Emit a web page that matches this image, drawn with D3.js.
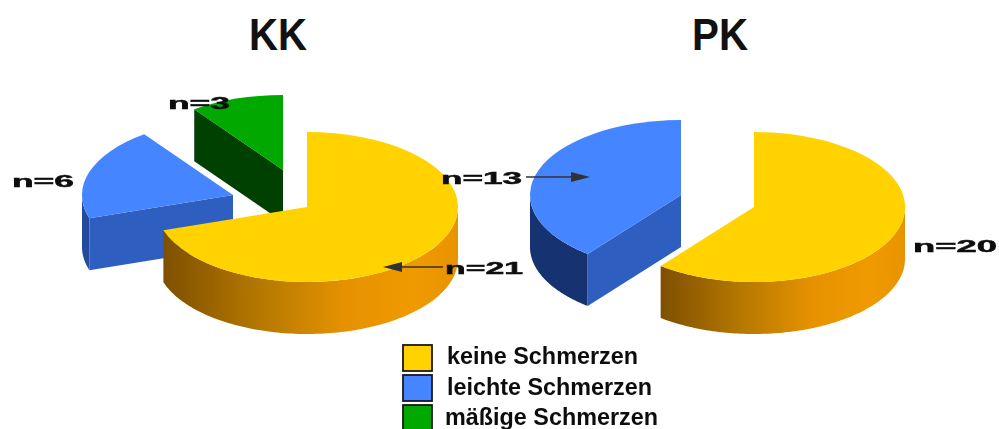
<!DOCTYPE html>
<html>
<head>
<meta charset="utf-8">
<script src="https://cdn.jsdelivr.net/npm/d3@7/dist/d3.min.js"></script>
<style>
html,body{margin:0;padding:0;background:#fff;overflow:hidden}
svg{display:block}
text{font-family:"Liberation Sans",Arial,sans-serif;font-weight:bold;fill:#111}
</style>
</head>
<body>
<script>
// Data
const categories = ["keine Schmerzen", "leichte Schmerzen", "mäßige Schmerzen"];
const groupNames = ["KK", "PK"];
const kkValues = [21, 6, 3];
const pkValues = [20, 13, 0];

// Styles
const topColors = ["#FFD200", "#4485FF", "#00A800"];
const radialColors = ["#C98A00", "#2F5FC0", "#003F00"];
const kkOuterColors = ["url(#kkWall)", "#214C9E", "#003F00"];
const pkOuterColors = ["url(#pkWall)", "#17306F", "#003F00"];

// Layout
const W = 999, H = 429, rx = 151, ry = 75, depth = 52;
const kkVertex = [[307, 207], [233, 195], [283, 170]];
const pkVertex = [[754, 207], [681, 195], [681, 195]];
const titleSpan = [[249, 307], [692, 748]];
const kkLabels = [[445, 523, 274], [12, 74, 187], [168, 230, 109]];
const pkLabels = [[913, 997, 252], [441, 522, 184]];
const arrows = [[443, 383, 267], [526, 590, 177]];
const legendRows = [[345, 447, 638, 364], [375, 447, 652, 395], [405, 445, 658, 425]];

const svg = d3.select("body").append("svg").attr("width", W).attr("height", H);
const defs = svg.append("defs");
defs.append("filter").attr("id", "soft").attr("x", "-5%").attr("y", "-5%").attr("width", "110%").attr("height", "110%")
  .append("feGaussianBlur").attr("stdDeviation", 0.55);

function wallGradient(id, x1, x2) {
  const g = defs.append("linearGradient").attr("id", id).attr("gradientUnits", "userSpaceOnUse")
    .attr("x1", x1).attr("x2", x2).attr("y1", 0).attr("y2", 0);
  [[0, "#7E4F00"], [0.35, "#B87A00"], [0.62, "#E69200"], [0.85, "#F09A00"], [1, "#E89400"]]
    .forEach(s => g.append("stop").attr("offset", s[0]).attr("stop-color", s[1]));
}
wallGradient("kkWall", 162, 458);
wallGradient("pkWall", 660, 905);

const root = svg.append("g").attr("filter", "url(#soft)");
const pie = d3.pie().sort(null).startAngle(0).endAngle(2 * Math.PI);
const unitArc = d3.arc().innerRadius(0).outerRadius(1);
const px = (c, a) => c[0] + rx * Math.sin(a);
const py = (c, a) => c[1] - ry * Math.cos(a);

function drawPie(values, vertex, outerColors) {
  const slices = pie(values).map((d, i) => ({ d, i })).filter(s => s.d.value > 0);
  // painter's order: back pieces first, the yellow one last
  slices.slice().reverse().forEach(({ d, i }) => {
    const c = vertex[i];
    const g = root.append("g");

    // visible part of the curved outer wall (lower half of the ellipse)
    const a0 = Math.max(d.startAngle, Math.PI / 2);
    const a1 = Math.min(d.endAngle, 3 * Math.PI / 2);
    if (a1 > a0) {
      const wall = d3.area()
        .x(a => px(c, a))
        .y0(a => py(c, a))
        .y1(a => py(c, a) + depth);
      g.append("path")
        .attr("d", wall(d3.range(0, 121).map(k => a0 + (a1 - a0) * k / 120)))
        .attr("fill", outerColors[i]);
    }

    // radial cut face at the start edge of the slice
    if (i > 0) {
      const face = d3.area()
        .x(t => c[0] + (px(c, d.startAngle) - c[0]) * t)
        .y0(t => c[1] + (py(c, d.startAngle) - c[1]) * t)
        .y1(t => c[1] + (py(c, d.startAngle) - c[1]) * t + depth);
      g.append("path").attr("d", face([0, 1])).attr("fill", radialColors[i]);
    }

    // top face
    g.append("path")
      .attr("d", unitArc(d))
      .attr("transform", `translate(${c[0]},${c[1]}) scale(${rx},${ry})`)
      .attr("fill", topColors[i]);
  });
}
drawPie(kkValues, kkVertex, kkOuterColors);
drawPie(pkValues, pkVertex, pkOuterColors);

// text squeezed or stretched to the measured width of the original
function fitted(parent, x0, x1, y, size, str) {
  return parent.append("text").attr("x", x0).attr("y", y).attr("font-size", size)
    .attr("textLength", x1 - x0).attr("lengthAdjust", "spacingAndGlyphs").text(str);
}

// Titles
groupNames.forEach((name, i) => {
  fitted(svg, titleSpan[i][0], titleSpan[i][1], 50, 45, name);
});

// n= labels
kkValues.forEach((v, i) => fitted(root, kkLabels[i][0], kkLabels[i][1], kkLabels[i][2], 17, "n=" + v)
  .attr("stroke", "#111").attr("stroke-width", 0.5));
pkValues.filter(v => v > 0).forEach((v, i) => fitted(root, pkLabels[i][0], pkLabels[i][1], pkLabels[i][2], 17, "n=" + v)
  .attr("stroke", "#111").attr("stroke-width", 0.5));

// Arrows
arrows.forEach(a => {
  const dir = Math.sign(a[1] - a[0]);
  root.append("line").attr("x1", a[0]).attr("x2", a[1] - dir * 10).attr("y1", a[2]).attr("y2", a[2])
    .attr("stroke", "#333").attr("stroke-width", 1.4);
  root.append("path")
    .attr("d", d3.line()([[a[1], a[2]], [a[1] - dir * 19, a[2] - 5], [a[1] - dir * 19, a[2] + 5]]) + "Z")
    .attr("fill", "#333");
});

// Legend
categories.forEach((name, i) => {
  const r = legendRows[i];
  root.append("rect").attr("x", 403).attr("y", r[0]).attr("width", 29).attr("height", 26)
    .attr("fill", topColors[i]).attr("stroke", "#1a1a1a").attr("stroke-width", 1.8);
  fitted(root, r[1], r[2], r[3], 23, name);
});
</script>
</body>
</html>
